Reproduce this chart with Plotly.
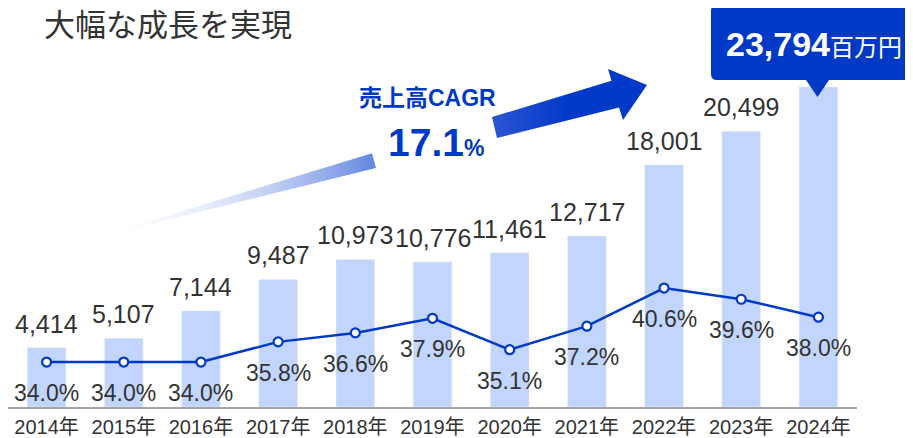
import plotly.graph_objects as go

# data
years = ['2014年', '2015年', '2016年', '2017年', '2018年', '2019年',
         '2020年', '2021年', '2022年', '2023年', '2024年']
sales = [4414, 5107, 7144, 9487, 10973, 10776, 11461, 12717, 18001, 20499, 23794]
ratio = [34.0, 34.0, 34.0, 35.8, 36.6, 37.9, 35.1, 37.2, 40.6, 39.6, 38.0]
cagr = 17.1
title_text = '大幅な成長を実現'
unit_text = '百万円'

W, H = 913, 438
OFF = 8  # page body margin, decorations below use window pixels
FONT = 'Liberation Sans, Arial, Noto Sans CJK JP, sans-serif'
BLUE = '#0039c6'
BAR = '#c2d5fc'
TXT = '#333333'

fig = go.Figure()

# bars (sales)
fig.add_trace(go.Bar(
    x=years, y=sales, marker_color=BAR, width=0.5,
    hoverinfo='skip', showlegend=False
))

# line (ratio) on second axis
fig.add_trace(go.Scatter(
    x=years, y=ratio, yaxis='y2', mode='lines+markers',
    line=dict(color=BLUE, width=2.5),
    marker=dict(size=9, color='white', line=dict(color=BLUE, width=2.2)),
    hoverinfo='skip', showlegend=False
))

# decorative gradient arrow, drawn on a hidden pixel-sized overlay axis
lower = dict(x=[90, 372, 376, 90], y=[239, 153.3, 168, 239])
upper = dict(x=[492, 611.5, 608, 647, 623, 619, 497, 492],
             y=[117, 80.7, 69, 85, 120, 107.6, 138, 117])
grad = dict(type='horizontal', start=90, stop=647,
            colorscale=[[0, 'rgba(255,255,255,0)'], [0.5, 'rgb(105,140,225)'],
                        [0.72, 'rgb(45,85,210)'], [0.86, 'rgb(0,57,199)'],
                        [1, 'rgb(0,57,199)']])
for seg in (lower, upper):
    fig.add_trace(go.Scatter(
        x=seg['x'], y=seg['y'], xaxis='x3', yaxis='y3', mode='none',
        fill='toself', fillgradient=grad, hoverinfo='skip', showlegend=False
    ))

# value labels above bars (last one goes in the callout box)
for yr, v in zip(years[:-1], sales[:-1]):
    fig.add_annotation(x=yr, y=v, xref='x', yref='y', text=f'{v:,}',
                       showarrow=False, yanchor='bottom', yshift=8,
                       font=dict(size=25, color=TXT, family=FONT))

# ratio labels below markers
for yr, r in zip(years, ratio):
    fig.add_annotation(x=yr, y=r, xref='x', yref='y2', text=f'{r:.1f}%',
                       showarrow=False, yanchor='middle', yshift=-31,
                       font=dict(size=23, color=TXT, family=FONT))

# title
fig.add_annotation(x=42, y=25, xref='x3', yref='y3', text=title_text,
                   showarrow=False, xanchor='left', yanchor='middle',
                   font=dict(size=31, color=TXT, family=FONT))

# CAGR text
fig.add_annotation(x=427, y=98, xref='x3', yref='y3', text='<b>売上高CAGR</b>',
                   showarrow=False, font=dict(size=23, color=BLUE, family=FONT))
fig.add_annotation(x=436, y=142, xref='x3', yref='y3',
                   text=f"<b>{cagr}</b><span style='font-size:23px'><b>%</b></span>",
                   showarrow=False, font=dict(size=39, color=BLUE, family=FONT))

# callout box for latest value
fig.add_shape(type='path', xref='x3', yref='y3', fillcolor=BLUE, line_width=0,
              path='M 717,5 L 906,5 Q 912,5 912,11 L 912,74 Q 912,80 906,80 '
                   'L 829,80 L 817.5,97 L 806,80 L 717,80 Q 711,80 711,74 '
                   'L 711,11 Q 711,5 717,5 Z')
fig.add_annotation(x=814, y=44, xref='x3', yref='y3',
                   text=f"<b>{sales[-1]:,}</b><span style='font-size:24px'>{unit_text}</span>",
                   showarrow=False, font=dict(size=34, color='white', family=FONT))

fig.update_layout(
    width=W, height=H,
    margin=dict(l=0, r=0, t=0, b=0),
    paper_bgcolor='white', plot_bgcolor='rgba(0,0,0,0)',
    font=dict(family=FONT, color=TXT),
    bargap=0.5,
    xaxis=dict(domain=[0, 849 / W], range=[-0.5, 10.5], showgrid=False,
               showline=True, linecolor='#a6a6a6', linewidth=2, ticks='',
               ticklabelstandoff=1,
               tickfont=dict(size=20, color=TXT), automargin=False),
    yaxis=dict(domain=[39 / H, 1], range=[0, 29670], visible=False,
               fixedrange=True),
    yaxis2=dict(overlaying='y', range=[29.99, 65.58], visible=False,
                fixedrange=True),
    xaxis3=dict(domain=[0, 1], range=[OFF, W + OFF], visible=False, anchor='y3'),
    yaxis3=dict(domain=[0, 1], range=[H + OFF, OFF], visible=False, anchor='x3'),
)

fig.write_html('out.html')
